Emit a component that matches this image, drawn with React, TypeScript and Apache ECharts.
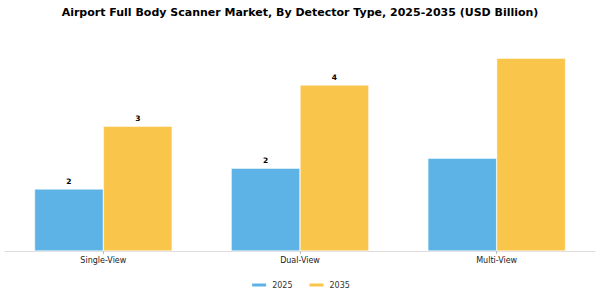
import React, { useEffect, useRef } from "react";
import * as echarts from "echarts";

const categories = ["Single-View", "Dual-View", "Multi-View"];
const values2025 = [1.55, 2.07, 2.32];
const values2035 = [3.12, 4.15, 4.82];
const seriesNames = ["2025", "2035"];
const labelShown = [true, true, false];

export default function App() {
  const ref = useRef<HTMLDivElement>(null);
  useEffect(() => {
    const chart = echarts.init(ref.current!, null, { renderer: "svg" });
    const font = "DejaVu Sans";
    const mkLabel = {
      show: true,
      position: "top",
      distance: 4,
      fontFamily: font,
      fontSize: 7.5,
      fontWeight: "bold",
      color: "#000",
      formatter: (p: any) => (labelShown[p.dataIndex] ? String(Math.round(p.value)) : ""),
    };
    chart.setOption({
      animation: false,
      title: {
        text: "Airport Full Body Scanner Market, By Detector Type, 2025-2035 (USD Billion)",
        left: "center",
        top: 2,
        textStyle: { fontFamily: font, fontSize: 11, fontWeight: "bold", color: "#000" },
      },
      legend: {
        top: 276,
        left: "center",
        itemWidth: 16,
        itemHeight: 5,
        itemGap: 15,
        icon: "rect",
        textStyle: { fontFamily: font, fontSize: 8, color: "#333" },
        data: seriesNames,
      },
      grid: { left: 5, right: 5, top: 40, bottom: 49, containLabel: false },
      xAxis: {
        type: "category",
        data: categories,
        axisLine: { lineStyle: { color: "#ddd" } },
        axisTick: { show: true, alignWithLabel: true, length: 3, lineStyle: { color: "#bbb" } },
        axisLabel: { fontFamily: font, fontSize: 8, color: "#222", margin: 5 },
      },
      yAxis: { type: "value", min: 0, max: 5.275, show: false, splitLine: { show: false } },
      series: [
        {
          name: seriesNames[0],
          type: "bar",
          data: values2025,
          barWidth: "35%",
          barGap: "0%",
          itemStyle: { color: "#5DB3E6", borderColor: "#fff", borderWidth: 0.5 },
          label: mkLabel,
        },
        {
          name: seriesNames[1],
          type: "bar",
          data: values2035,
          barWidth: "35%",
          barGap: "0%",
          itemStyle: { color: "#F9C54B", borderColor: "#fff", borderWidth: 0.5 },
          label: mkLabel,
        },
      ],
    });
    return () => chart.dispose();
  }, []);
  return <div ref={ref} style={{ width: 600, height: 300, position: "absolute", left: 0, top: 0 }} />;
}
